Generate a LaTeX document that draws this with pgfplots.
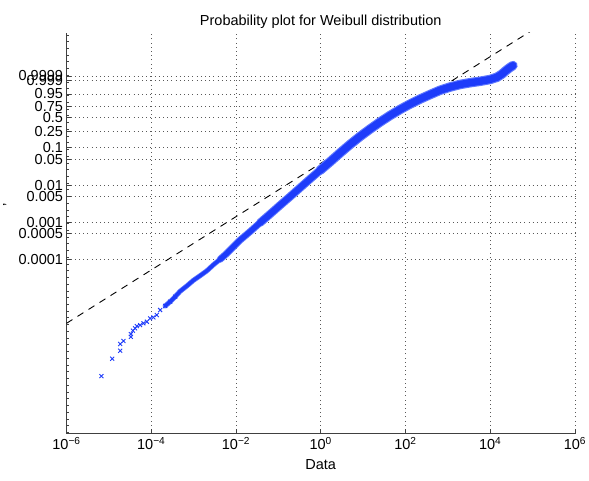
\documentclass[border=0pt]{standalone}
\usepackage{fontspec}
\setmainfont{Liberation Sans}
\usepackage{pgfplots}
\pgfplotsset{compat=1.18}
\usepackage{pgfplotstable}
\usetikzlibrary{calc}
\definecolor{mblue}{RGB}{30,60,250}
\definecolor{mbluelt}{RGB}{95,120,255}
\newcommand{\fsz}{\fontsize{14.5}{17}\selectfont}

% lx = log10(data), w = log(-log(1-p))
\pgfplotstableread{
lx w
-5.175 -16.49
-4.922 -15.41
-4.733 -14.91
-4.733 -14.49
-4.656 -14.30
-4.481 -14.04
-4.481 -13.87
-4.434 -13.66
-4.380 -13.51
-4.340 -13.37
-4.262 -13.31
-4.184 -13.20
-4.104 -13.10
-4.026 -12.89
-3.948 -12.83
-3.868 -12.68
-3.790 -12.37
-3.672 -12.12
-3.554 -11.85
-3.436 -11.54
}\sparse

\pgfplotstableread{
lx w
-3.672 -12.12
-3.554 -11.85
-3.436 -11.54
-3.318 -11.20
-3.160 -10.87
-3.005 -10.52
-2.847 -10.23
-2.689 -9.93
-2.533 -9.55
-2.375 -9.21
-2.217 -8.84
-2.061 -8.42
-1.903 -8.01
-1.667 -7.48
-1.432 -6.93
-1.196 -6.39
-0.960 -5.84
-0.724 -5.30
-0.488 -4.75
-0.252 -4.20
-0.016 -3.66
0.219 -3.13
0.455 -2.58
0.691 -2.05
0.927 -1.55
1.163 -1.09
1.399 -0.65
1.634 -0.245
1.870 0.13
2.106 0.47
2.342 0.78
2.578 1.06
2.814 1.33
3.050 1.53
3.285 1.69
3.521 1.80
3.757 1.89
3.993 2.00
4.158 2.14
4.276 2.34
4.371 2.56
4.465 2.75
4.536 2.87
}\band

\begin{document}
\begin{tikzpicture}
\begin{axis}[
  scale only axis, width=508.5pt, height=401.3pt,
  xmode=log, xmin=1e-6, xmax=1e6,
  ymin=-20.1, ymax=4.92,
  axis lines*=left,
  axis line style={line width=1pt, black!75},
  tick align=inside,
  major tick length=5pt, minor tick length=3pt,
  tick style={black!75, line width=0.8pt},
  xtick={1e-6,1e-4,1e-2,1,1e2,1e4,1e6},
  xticklabels={10\textsuperscript{−6},10\textsuperscript{−4},10\textsuperscript{−2},10\textsuperscript{0},10\textsuperscript{2},10\textsuperscript{4},10\textsuperscript{6}},
  xminorticks=false,
  ytick={-9.21029,-7.60065,-6.90726,-5.29581,-4.60015,-2.97019,-2.25037,-1.24590,-0.36651,0.32663,1.09719,1.93264,2.22031},
  yticklabels={0.0001,0.0005,0.001,0.005,0.01,0.05,0.1,0.25,0.5,0.75,0.95,0.999,0.9999},
  minor ytick={-20,-19.58,...,4.9},
  grid=major,
  grid style={black!65, line width=0.6pt, dash pattern=on 0.7pt off 3.5pt},
  ticklabel style={font=\fsz},
  title={Probability plot for Weibull distribution},
  title style={font=\fsz, yshift=-5pt},
  xlabel={Data},
  xlabel style={font=\fsz, yshift=-3pt},
  ylabel={’},
  ylabel style={font=\fsz, at={(axis description cs:-0.115,0.571)}, anchor=center},
]
\addplot[black, line width=0.9pt, dash pattern=on 7pt off 6pt] coordinates {(1e-6,-13.20) (1e5,5.09)};
% blue band of overlapping crosses, thickening towards the upper tail
\addplot[draw=mbluelt, line width=5pt, line cap=round, line join=round] table[x expr={10^(\thisrow{lx})}, y=w] {\band};
\addplot[draw=mbluelt, line width=7pt, line cap=round, line join=round] table[x expr={10^(\thisrow{lx})}, y=w, skip coords between index={0}{9}] {\band};
\addplot[draw=mbluelt, line width=8.3pt, line cap=round, line join=round] table[x expr={10^(\thisrow{lx})}, y=w, skip coords between index={0}{14}] {\band};
\addplot[draw=mbluelt, line width=9.5pt, line cap=round, line join=round] table[x expr={10^(\thisrow{lx})}, y=w, skip coords between index={0}{20}] {\band};
\addplot[draw=mblue, line width=3.5pt, line cap=round, line join=round] table[x expr={10^(\thisrow{lx})}, y=w] {\band};
\addplot[draw=mblue, line width=5.2pt, line cap=round, line join=round] table[x expr={10^(\thisrow{lx})}, y=w, skip coords between index={0}{9}] {\band};
\addplot[draw=mblue, line width=6.3pt, line cap=round, line join=round] table[x expr={10^(\thisrow{lx})}, y=w, skip coords between index={0}{14}] {\band};
\addplot[draw=mblue, line width=7.3pt, line cap=round, line join=round] table[x expr={10^(\thisrow{lx})}, y=w, skip coords between index={0}{20}] {\band};
\addplot[only marks, mark=x, mark size=2.8pt, mblue, line width=0.9pt] table[x expr={10^(\thisrow{lx})}, y=w] {\sparse};
\end{axis}
\pgfresetboundingbox
\path ($(current axis.south west)+(-66.5pt,-47pt)$) rectangle ($(current axis.north east)+(14pt,32.7pt)$);
\end{tikzpicture}
\end{document}
